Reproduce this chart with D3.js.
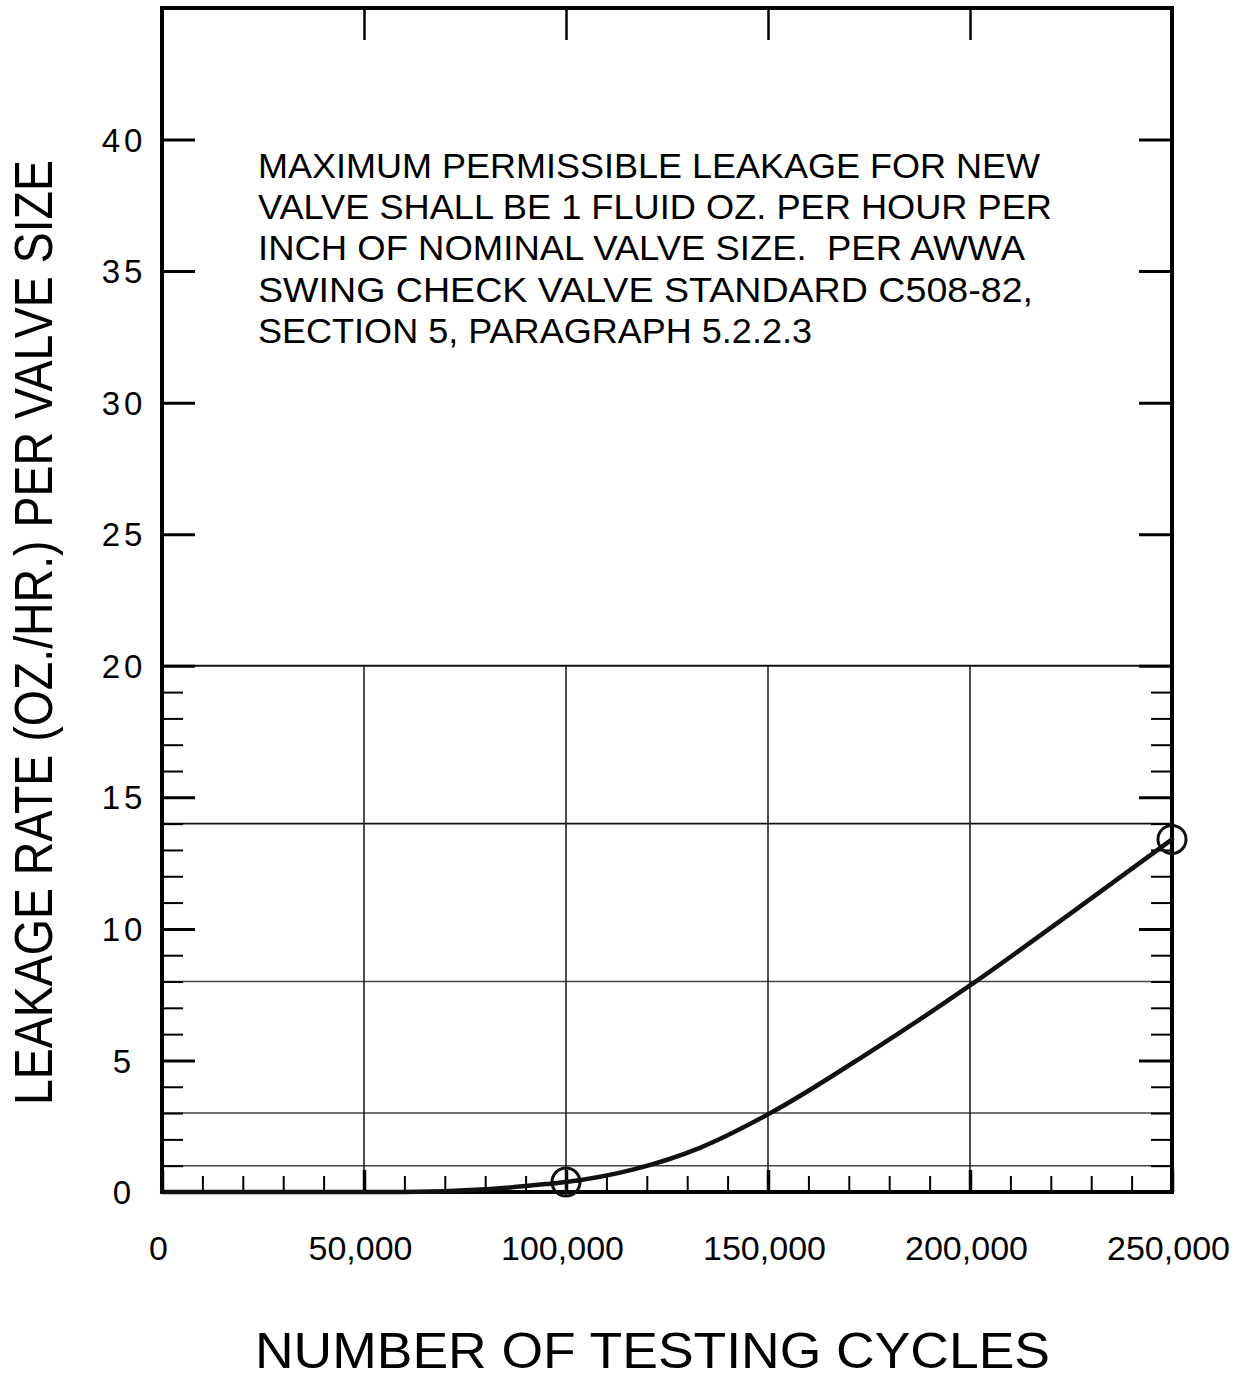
<!DOCTYPE html>
<html>
<head>
<meta charset="utf-8">
<script src="https://cdn.jsdelivr.net/npm/d3@7"></script>
<style>
  body { margin: 0; background: #fff; }
  svg text { font-family: "Liberation Sans", Arial, Helvetica, sans-serif; fill: #000; }
</style>
</head>
<body>
<div id="chartContainer"></div>
<script>
// データ
var cycles = [0, 60000, 80000, 95000, 100000, 117000, 133000, 150000, 175000, 200000, 225000, 250000];
var leakage = [0, 0, 0.1, 0.3, 0.38, 0.87, 1.67, 2.95, 5.3, 7.85, 10.6, 13.4];

// 丸印（測定点）
var markerCycles = [100000, 250000];
var markerLeakage = [0.38, 13.4];
var markerCross = [true, false];

// 目盛り
var xTickValues = [0, 50000, 100000, 150000, 200000, 250000];
var xTickLabels = ["0", "50,000", "100,000", "150,000", "200,000", "250,000"];
var yMajorTicks = [0, 5, 10, 15, 20, 25, 30, 35, 40];
var yMinorTicks = [1, 2, 3, 4, 6, 7, 8, 9, 11, 12, 13, 14, 16, 17, 18, 19];
var xMinorTicks = d3.range(10000, 250000, 10000).filter(function(d){ return d % 50000 !== 0; });
var topTicks = [50000, 100000, 150000, 200000];

// グリッド線
var gridY = [1, 3, 8, 14, 20];
var gridX = [50000, 100000, 150000, 200000];

var note = [
  "MAXIMUM PERMISSIBLE LEAKAGE FOR NEW",
  "VALVE SHALL BE 1 FLUID OZ. PER HOUR PER",
  "INCH OF NOMINAL VALVE SIZE.  PER AWWA",
  "SWING CHECK VALVE STANDARD C508-82,",
  "SECTION 5, PARAGRAPH 5.2.2.3"
];
var xTitle = "NUMBER OF TESTING CYCLES";
var yTitle = "LEAKAGE RATE (OZ./HR.) PER VALVE SIZE";

// 表示領域の設定
var margin = {top: 8, right: 69, bottom: 186, left: 162},
    width = 1241 - margin.left - margin.right,
    height = 1378 - margin.top - margin.bottom;

var x = d3.scaleLinear().domain([0, 250000]).range([0, width]);
var y = d3.scaleLinear().domain([0, 45]).range([height, 0]);

var svg = d3.select("#chartContainer").append("svg")
  .attr("width", 1241)
  .attr("height", 1378)
  .append("g")
  .attr("transform", "translate(" + margin.left + "," + margin.top + ")");

// グリッド
svg.append("g").selectAll("line").data(gridY).enter().append("line")
  .attr("x1", 0).attr("x2", width)
  .attr("y1", function(d){ return y(d); }).attr("y2", function(d){ return y(d); })
  .attr("stroke", function(d){ return d >= 14 ? "#111" : "#444"; })
  .attr("stroke-width", function(d){ return d == 20 ? 2 : 1.6; });

svg.append("g").selectAll("line").data(gridX).enter().append("line")
  .attr("x1", function(d){ return x(d); }).attr("x2", function(d){ return x(d); })
  .attr("y1", y(20)).attr("y2", y(0))
  .attr("stroke", "#222").attr("stroke-width", 1.6);

// 軸（目盛り）
function styleAxis(g, w) {
  g.select(".domain").remove();
  g.selectAll(".tick line").attr("stroke", "#000").attr("stroke-width", w);
}

// 左軸 主目盛り＋ラベル
var yAxisLeft = d3.axisLeft(y).tickValues(yMajorTicks).tickSize(-33).tickPadding(38);
svg.append("g").attr("class", "y axis").call(yAxisLeft).call(styleAxis, 3)
  .selectAll("text")
  .attr("text-anchor", "middle")
  .style("font-size", "33px")
  .style("letter-spacing", "4px")
  .attr("dy", "0.35em");
svg.append("g").call(d3.axisLeft(y).tickValues(yMinorTicks).tickSize(-21).tickFormat(""))
  .call(styleAxis, 2);

// 右軸
svg.append("g").attr("transform", "translate(" + width + ",0)")
  .call(d3.axisRight(y).tickValues(yMajorTicks).tickSize(-33).tickFormat(""))
  .call(styleAxis, 3);
svg.append("g").attr("transform", "translate(" + width + ",0)")
  .call(d3.axisRight(y).tickValues(yMinorTicks).tickSize(-21).tickFormat(""))
  .call(styleAxis, 2);

// 下軸
var xAxis = d3.axisBottom(x).tickValues(xTickValues).tickSize(-22).tickPadding(56)
  .tickFormat(function(d, i){ return xTickLabels[i]; });
svg.append("g").attr("class", "x axis").attr("transform", "translate(0," + height + ")")
  .call(xAxis).call(styleAxis, 3.5)
  .selectAll("text")
  .attr("x", -4)
  .style("font-size", "34px")
  .attr("dy", "0.35em");
svg.append("g").attr("transform", "translate(0," + height + ")")
  .call(d3.axisBottom(x).tickValues(xMinorTicks).tickSize(-16).tickFormat(""))
  .call(styleAxis, 2);

// 上軸
svg.append("g")
  .call(d3.axisTop(x).tickValues(topTicks).tickSize(-32).tickFormat(""))
  .call(styleAxis, 2.5);

// 枠
svg.append("rect")
  .attr("x", 0).attr("y", 0).attr("width", width).attr("height", height)
  .attr("fill", "none").attr("stroke", "#000").attr("stroke-width", 4);

// 曲線
var pts = cycles.map(function(c, i){ return {x: c, y: leakage[i]}; });
var line = d3.line()
  .x(function(d){ return x(d.x); })
  .y(function(d){ return y(d.y); })
  .curve(d3.curveMonotoneX);
svg.append("path").datum(pts)
  .attr("d", line)
  .attr("fill", "none")
  .attr("stroke", "#111")
  .attr("stroke-width", 4.5)
  .attr("stroke-linecap", "round");

// 丸印
var marks = markerCycles.map(function(c, i){ return {x: c, y: markerLeakage[i], cross: markerCross[i]}; });
var mg = svg.append("g").selectAll("g").data(marks).enter().append("g")
  .attr("transform", function(d){ return "translate(" + x(d.x) + "," + y(d.y) + ")"; });
mg.append("circle").attr("r", 14).attr("fill", "none").attr("stroke", "#111").attr("stroke-width", 3);
mg.filter(function(d){ return d.cross; }).append("path")
  .attr("d", "M-14,0H14M0,-14V14")
  .attr("stroke", "#111").attr("stroke-width", 2);

// 注記
var noteG = svg.append("g");
var noteWidths = [782, 794, 767, 775, 554];
noteG.selectAll("text").data(note).enter().append("text")
  .attr("x", 258 - margin.left)
  .attr("y", function(d, i){ return 178 - margin.top + i * 41.2; })
  .attr("textLength", function(d, i){ return noteWidths[i]; })
  .attr("lengthAdjust", "spacingAndGlyphs")
  .style("font-size", "35px")
  .style("white-space", "pre")
  .text(function(d){ return d; });

// 軸タイトル
svg.append("text")
  .attr("x", 255 - margin.left)
  .attr("y", 1368 - margin.top)
  .attr("textLength", 795)
  .attr("lengthAdjust", "spacingAndGlyphs")
  .style("font-size", "50px")
  .text(xTitle);

svg.append("text")
  .attr("transform", "translate(" + (52 - margin.left) + "," + (1105 - margin.top) + ") rotate(-90)")
  .attr("textLength", 945)
  .attr("lengthAdjust", "spacingAndGlyphs")
  .style("font-size", "54px")
  .text(yTitle);
</script>
</body>
</html>
